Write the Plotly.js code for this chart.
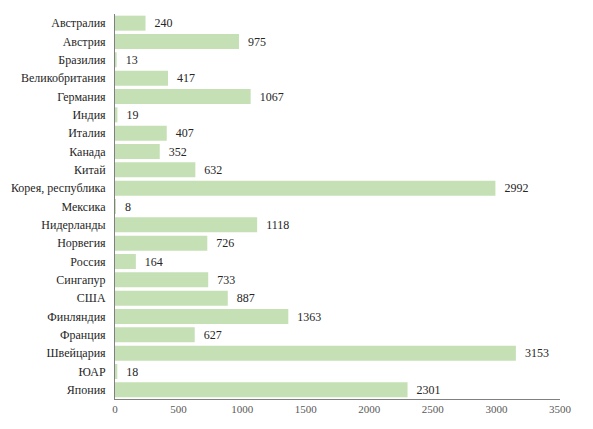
<!DOCTYPE html>
<html>
<head>
<meta charset="utf-8">
<script src="https://cdn.plot.ly/plotly-3.0.1.min.js"></script>
<style>
.main-svg text { font-family: 'Liberation Serif', serif !important; }
</style>
</head>
<body style="margin:0;background:#fff">
<div id="chart"></div>
<script>
const countries = ["Австралия","Австрия","Бразилия","Великобритания","Германия","Индия","Италия","Канада","Китай","Корея, республика","Мексика","Нидерланды","Норвегия","Россия","Сингапур","США","Финляндия","Франция","Швейцария","ЮАР","Япония"];
const values = [240,975,13,417,1067,19,407,352,632,2992,8,1118,726,164,733,887,1363,627,3153,18,2301];
const xTicks = [0,500,1000,1500,2000,2500,3000,3500];

Plotly.newPlot('chart', [{
  type: 'bar',
  orientation: 'h',
  x: values,
  y: countries,
  text: values.map(v => '\u00a0\u00a0' + v),
  textposition: 'outside',
  cliponaxis: false,
  textfont: {family: 'Liberation Serif', size: 12, color: '#262626'},
  marker: {color: '#c5e0b4'},
  hoverinfo: 'skip'
}], {
  width: 593, height: 429,
  margin: {l: 115, r: 33, t: 14, b: 30},
  bargap: 0.18,
  showlegend: false,
  paper_bgcolor: '#ffffff', plot_bgcolor: '#ffffff',
  font: {family: 'Liberation Serif', size: 12, color: '#262626'},
  xaxis: {
    range: [0, 3500], tickvals: xTicks, ticktext: xTicks.map(String),
    showgrid: false, zeroline: false, showline: true, linecolor: '#808080', linewidth: 1,
    ticks: '', tickfont: {family: 'Liberation Serif', size: 11, color: '#595959'}
  },
  yaxis: {
    autorange: 'reversed', showgrid: false, zeroline: false,
    showline: true, linecolor: '#808080', linewidth: 1,
    ticks: 'outside', ticklen: 6, tickcolor: 'rgba(0,0,0,0)',
    tickfont: {family: 'Liberation Serif', size: 12, color: '#262626'}
  }
}, {staticPlot: true});
</script>
</body>
</html>
